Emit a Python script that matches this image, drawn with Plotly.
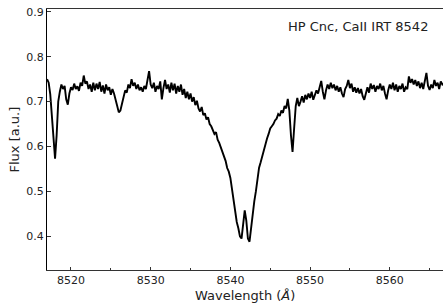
import plotly.graph_objects as go

# Wavelength sampling grid (Angstrom)
wl_start = 8517.0
wl_step = 0.2

# Flux values (a.u.), one per grid point
flux = [
    0.750, 0.742, 0.716, 0.672, 0.610, 0.573, 0.625, 0.700, 0.722, 0.738,
    0.728, 0.735, 0.705, 0.693, 0.718, 0.732, 0.726, 0.740, 0.728, 0.734,
    0.724, 0.742, 0.735, 0.758, 0.740, 0.745, 0.728, 0.738, 0.722, 0.742,
    0.725, 0.740, 0.728, 0.744, 0.722, 0.736, 0.718, 0.738, 0.725, 0.732,
    0.715, 0.728, 0.718, 0.700, 0.690, 0.676, 0.680, 0.695, 0.712, 0.725,
    0.720, 0.738, 0.730, 0.750, 0.735, 0.742, 0.728, 0.738, 0.725, 0.732,
    0.722, 0.735, 0.728, 0.745, 0.768, 0.738, 0.730, 0.742, 0.722, 0.735,
    0.728, 0.745, 0.705, 0.730, 0.748, 0.728, 0.738, 0.720, 0.742, 0.725,
    0.740, 0.718, 0.735, 0.722, 0.738, 0.715, 0.728, 0.708, 0.722, 0.705,
    0.718, 0.700, 0.710, 0.692, 0.702, 0.685, 0.678, 0.688, 0.670, 0.674,
    0.660, 0.665, 0.650, 0.645, 0.638, 0.628, 0.632, 0.615, 0.608, 0.598,
    0.590, 0.576, 0.568, 0.552, 0.544, 0.530, 0.505, 0.475, 0.455, 0.432,
    0.418, 0.400, 0.395, 0.428, 0.458, 0.435, 0.395, 0.388, 0.420, 0.448,
    0.478, 0.500, 0.528, 0.553, 0.565, 0.580, 0.590, 0.605, 0.618, 0.628,
    0.640, 0.645, 0.650, 0.658, 0.662, 0.672, 0.668, 0.680, 0.675, 0.690,
    0.685, 0.706, 0.680, 0.625, 0.588, 0.640, 0.690, 0.708, 0.690, 0.700,
    0.712, 0.698, 0.715, 0.705, 0.718, 0.708, 0.722, 0.704, 0.715, 0.725,
    0.718, 0.730, 0.746, 0.722, 0.705, 0.725, 0.738, 0.728, 0.742, 0.730,
    0.738, 0.725, 0.735, 0.722, 0.732, 0.718, 0.710, 0.728, 0.735, 0.748,
    0.730, 0.740, 0.722, 0.732, 0.720, 0.730, 0.718, 0.728, 0.712, 0.704,
    0.722, 0.732, 0.720, 0.740, 0.728, 0.737, 0.722, 0.735, 0.728, 0.740,
    0.725, 0.735, 0.718, 0.705, 0.725, 0.738, 0.728, 0.742, 0.725, 0.738,
    0.722, 0.735, 0.728, 0.740, 0.722, 0.732, 0.728, 0.756, 0.742, 0.750,
    0.738, 0.748, 0.735, 0.745, 0.730, 0.742, 0.728, 0.745, 0.764, 0.735,
    0.726, 0.738, 0.730, 0.748, 0.735, 0.742, 0.728, 0.745, 0.738, 0.741,
]

wavelength = [round(wl_start + i * wl_step, 2) for i in range(len(flux))]

label_text = "HP Cnc, CaII IRT 8542"
x_title = "Wavelength (<i>Å</i>)"
y_title = "Flux [a.u.]"

font_family = "DejaVu Sans"

fig = go.Figure()
fig.add_trace(go.Scatter(
    x=wavelength, y=flux, mode="lines",
    line=dict(color="black", width=1.9),
    showlegend=False, hoverinfo="skip",
))

fig.update_layout(
    width=443, height=304,
    margin=dict(l=47, r=0, t=9, b=34, autoexpand=False),
    paper_bgcolor="white", plot_bgcolor="white",
    font=dict(family=font_family, size=11, color="#222"),
)

fig.update_xaxes(
    range=[8516.99, 8566.68],
    automargin=False,
    showgrid=False, zeroline=False,
    showline=True, linecolor="#333", linewidth=1, mirror=True,
    ticks="inside", ticklen=3.5, tickwidth=1, tickcolor="#333",
    tick0=8520, dtick=10,
    minor=dict(ticks="inside", ticklen=2, tickwidth=1, tickcolor="#333", tick0=8515, dtick=5),
    tickfont=dict(size=11),
)
fig.update_yaxes(
    range=[0.325, 0.9062],
    automargin=False,
    showgrid=False, zeroline=False,
    showline=True, linecolor="black", linewidth=1, mirror=False,
    ticks="inside", ticklen=3.5, tickwidth=1, tickcolor="#333",
    tick0=0.4, dtick=0.1, tickformat=".1f",
    tickfont=dict(size=11),
)

# axis titles as annotations for exact placement
fig.add_annotation(
    text=x_title, xref="paper", yref="paper", x=0.5, y=-0.0996,
    xanchor="center", yanchor="middle", showarrow=False,
    font=dict(size=13, color="#222"),
)
fig.add_annotation(
    text=y_title, xref="paper", yref="paper", x=-0.0833, y=0.5,
    xanchor="center", yanchor="middle", textangle=-90, showarrow=False,
    font=dict(size=13, color="#222"),
)

fig.add_annotation(
    text=label_text, xref="paper", yref="paper",
    x=0.967, y=0.933, xanchor="right", yanchor="middle",
    showarrow=False, font=dict(size=13, color="#222"),
)

fig.write_html("out.html", config={"displayModeBar": False, "staticPlot": True})

# remove default browser body margin so the figure sits at the page origin
with open("out.html", "r", encoding="utf-8") as f:
    html = f.read()
html = html.replace("<head>", "<head><style>html,body{margin:0;padding:0;}</style>", 1)
with open("out.html", "w", encoding="utf-8") as f:
    f.write(html)
